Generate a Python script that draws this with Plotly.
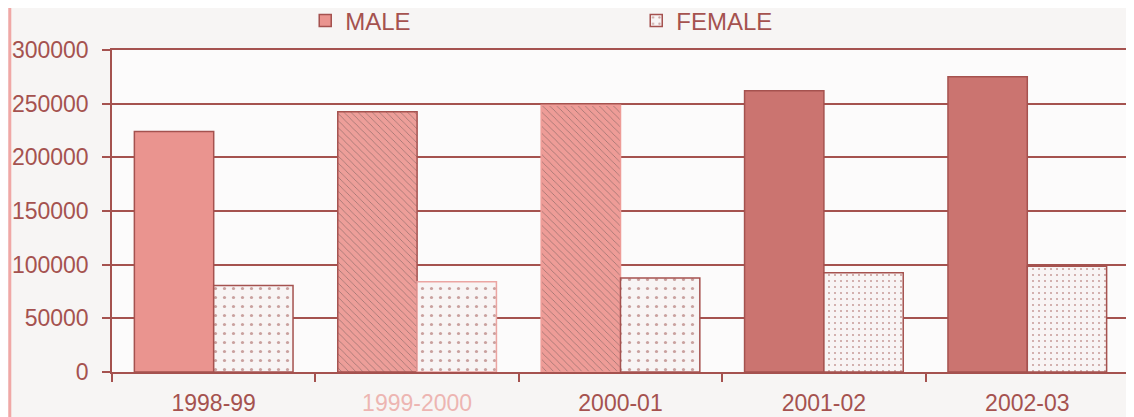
import plotly.graph_objects as go

# ---- data ----
years = ["1998-99", "1999-2000", "2000-01", "2001-02", "2002-03"]
male = [224000, 242500, 248500, 262000, 275000]
female = [80500, 84000, 87500, 92500, 98500]
y_ticks = [0, 50000, 100000, 150000, 200000, 250000, 300000]

## COLOURS (faded scan look)
INK = "#A5524F"
male_fill = ["#EA948F", "#ED9E99", "#EE9C97", "#CB7470", "#CB7470"]
male_edge = [INK, INK, "#EE9C97", INK, INK]
male_hatch = ["", "\\", "\\", "", ""]
female_edge = [INK, "#EBA5A2", INK, INK, INK]
female_dots = [9, 9, 9, 6, 6]
label_col = [INK, "#EDB5B2", INK, INK, INK]

fig = go.Figure()

fig.add_trace(go.Bar(
    x=years, y=male, name="MALE",
    marker=dict(color=male_fill,
                line=dict(color=male_edge, width=1.5),
                pattern=dict(shape=male_hatch, fgcolor="#E08A85",
                             size=5, solidity=0.15)),
))

fig.add_trace(go.Bar(
    x=years, y=female, name="FEMALE",
    marker=dict(color="#F8F4F4",
                line=dict(color=female_edge, width=1.5),
                pattern=dict(shape=".", fgcolor="#9A4B48", bgcolor="#F8F4F4",
                             size=female_dots, solidity=0.1)),
))

tick_text = ["<span style='color:%s'>%s</span>" % (c, t) for c, t in zip(label_col, years)]

# page is drawn 8px in from the window corner, margins allow for that
fig.update_layout(
    width=1134, height=417,
    margin=dict(l=104, r=13, t=42, b=53, autoexpand=False),
    paper_bgcolor="#F7F5F4",
    plot_bgcolor="#FCFBFB",
    font=dict(family="Arial, Liberation Sans, sans-serif", color=INK, size=23),
    barmode="group",
    bargap=0.22,
    bargroupgap=0,
    legend=dict(orientation="h", x=0.19, y=1.09, xanchor="left", yanchor="middle",
                entrywidth=286, entrywidthmode="pixels",
                font=dict(size=24, color=INK), bgcolor="rgba(0,0,0,0)"),
    showlegend=True,
)

fig.update_xaxes(
    type="category", range=[-0.5, 4.5],
    tickmode="array", tickvals=years, ticktext=tick_text,
    showline=True, linecolor=INK, linewidth=1.5, mirror=True,
    ticks="outside", tickson="boundaries", ticklen=8, tickcolor=INK, tickwidth=1.5,
    ticklabelstandoff=10,
    tickfont=dict(size=23),
)

fig.update_yaxes(
    range=[0, 300000], tickmode="array", tickvals=y_ticks, tickformat="d",
    showline=True, linecolor=INK, linewidth=1.5, mirror=True,
    showgrid=True, gridcolor=INK, gridwidth=1.5,
    ticks="outside", ticklen=8, tickcolor=INK, tickwidth=1.5,
    ticklabelstandoff=9,
    tickfont=dict(size=23),
    zeroline=False,
)

# pink scan edge on the left side of the page
fig.add_shape(type="line", xref="paper", yref="paper",
              x0=-0.1005, x1=-0.1005, y0=-0.2, y1=1.2,
              line=dict(color="#F0A8A6", width=3))

fig.write_html("out.html")
